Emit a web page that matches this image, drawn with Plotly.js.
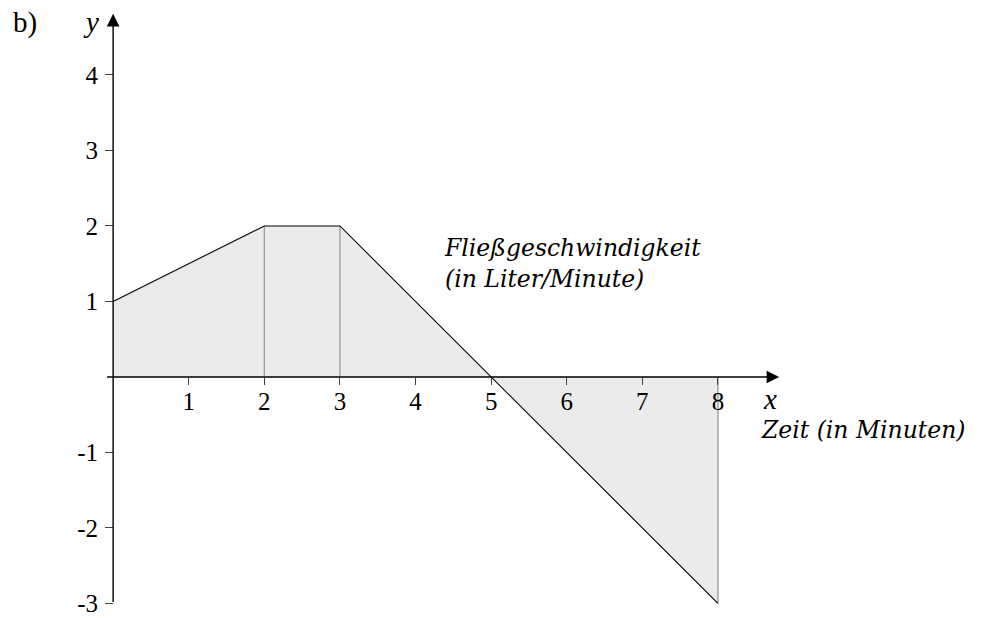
<!DOCTYPE html>
<html>
<head>
<meta charset="utf-8">
<script src="https://cdn.plot.ly/plotly-3.0.1.min.js"></script>
<style>html,body{margin:0;padding:0;background:#fff;}#chart{width:984px;height:618px;}</style>
</head>
<body>
<div id="chart"></div>
<script>
// Data
const xPts = [0, 2, 3, 5, 8];
const yPts = [1, 2, 2, 0, -3];
const dropX = [2, 3, 8];
const xTicks = [1, 2, 3, 4, 5, 6, 7, 8];
const yTicks = [-3, -2, -1, 1, 2, 3, 4];
const xTickText = ['1', '2', '3', '4', '5', '6', '7', '8'];
const yTickText = ['-3', '-2', '-1', '1', '2', '3', '4'];
const curveLabel = 'Fließgeschwindigkeit<br>(in Liter/Minute)';
const xLabel = 'Zeit (in Minuten)';

const xRange = [-0.2, 8.9];
const yRange = [-3.1, 4.9];

const polyX = [0].concat(xPts, [xPts[xPts.length - 1], 0]);
const polyY = [0].concat(yPts, [0, 0]);

const vx = [], vy = [];
dropX.forEach(function (d) {
  const i = xPts.indexOf(d);
  vx.push(d, d, null);
  vy.push(0, yPts[i], null);
});

const serif = 'Liberation Serif, DejaVu Serif, serif';
const itFont = {family: 'DejaVu Serif, serif', size: 23.5, color: '#000'};

const traces = [
  {x: polyX, y: polyY, type: 'scatter', mode: 'lines', fill: 'toself',
   fillcolor: '#ebebeb', line: {width: 0, color: 'rgba(0,0,0,0)'}, hoverinfo: 'skip'},
  {x: vx, y: vy, type: 'scatter', mode: 'lines', line: {color: '#9a9a9a', width: 1.3}, hoverinfo: 'skip'},
  {x: xPts, y: yPts, type: 'scatter', mode: 'lines', line: {color: '#000', width: 1.1}, hoverinfo: 'skip'}
];

const layout = {
  width: 984, height: 618,
  margin: {l: 98, r: 198, t: 7, b: 7},
  paper_bgcolor: '#fff', plot_bgcolor: '#fff',
  showlegend: false,
  xaxis: {
    range: xRange, anchor: 'free',
    position: (0 - yRange[0]) / (yRange[1] - yRange[0]),
    showgrid: false, zeroline: false, showline: false,
    tickmode: 'array', tickvals: xTicks, ticktext: xTickText,
    ticks: 'outside', ticklen: 7, tickwidth: 1, tickcolor: '#444',
    ticklabelstandoff: -5,
    tickfont: {family: serif, size: 25, color: '#000'}
  },
  yaxis: {
    range: yRange, anchor: 'free',
    position: (0 - xRange[0]) / (xRange[1] - xRange[0]),
    showgrid: false, zeroline: false, showline: false,
    tickmode: 'array', tickvals: yTicks, ticktext: yTickText,
    ticks: 'outside', ticklen: 8, tickwidth: 1, tickcolor: '#444',
    ticklabelstandoff: 2,
    tickfont: {family: serif, size: 25, color: '#000'}
  },
  annotations: [
    {x: 8.81, y: 0, ax: -0.1, ay: 0, xref: 'x', yref: 'y', axref: 'x', ayref: 'y',
     showarrow: true, arrowhead: 2, arrowsize: 1.8, arrowwidth: 1.4, arrowcolor: '#000', text: ''},
    {x: 0, y: 4.81, ax: 0, ay: -3, xref: 'x', yref: 'y', axref: 'x', ayref: 'y',
     showarrow: true, arrowhead: 2, arrowsize: 1.8, arrowwidth: 1.4, arrowcolor: '#000', text: ''},
    {x: -0.0102, y: 0.975, xref: 'paper', yref: 'paper', xanchor: 'center', yanchor: 'middle',
     text: '<i>y</i>', showarrow: false, font: {family: serif, size: 29, color: '#000'}},
    {x: -0.106, y: 0.975, xref: 'paper', yref: 'paper', xanchor: 'center', yanchor: 'middle',
     text: 'b)', showarrow: false, font: {family: serif, size: 29, color: '#000'}},
    {x: 8.69, y: -0.29, xref: 'x', yref: 'y', xanchor: 'center', yanchor: 'middle',
     text: '<i>x</i>', showarrow: false, font: {family: serif, size: 29, color: '#000'}},
    {x: 8.545, y: -0.70, xref: 'x', yref: 'y', xanchor: 'left', yanchor: 'middle',
     text: '<i>' + xLabel + '</i>', showarrow: false, font: itFont},
    {x: 4.35, y: 1.50, xref: 'x', yref: 'y', xanchor: 'left', yanchor: 'middle', align: 'left',
     text: '<i>' + curveLabel + '</i>', showarrow: false, font: itFont}
  ]
};

Plotly.newPlot('chart', traces, layout, {displayModeBar: false, staticPlot: true});
</script>
</body>
</html>
